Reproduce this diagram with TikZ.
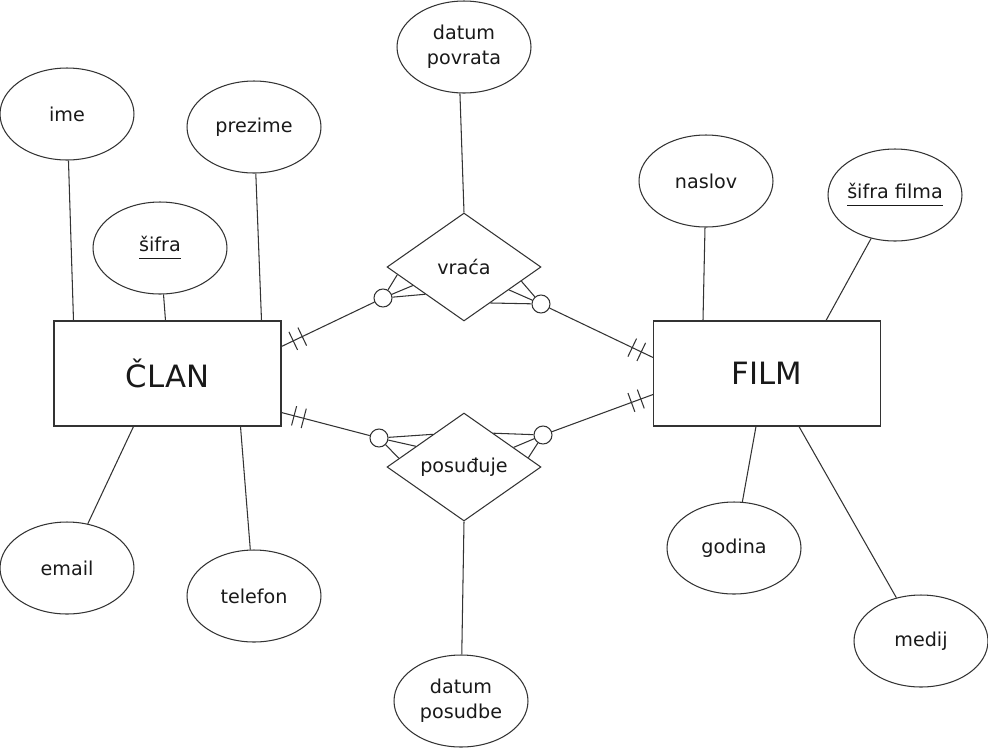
\documentclass[tikz,border=0pt]{standalone}
\usepackage{fontspec}
\setmainfont{DejaVu Sans}
\usetikzlibrary{shapes.geometric, calc, decorations.markings}

\newcommand{\kljuc}[1]{\underline{#1\vphantom{j}}}

\begin{document}
\begin{tikzpicture}[
  x=0.02cm, y=-0.02cm,
  line width=0.6pt, color=black!80, text=black!90,
  font=\fontsize{10.9}{14}\selectfont,
  entity/.style={draw, minimum width=4.54cm, minimum height=2.1cm, inner sep=0,
    font=\fontsize{17.5}{22}\selectfont},
  attr/.style={draw, ellipse, minimum width=2.68cm, minimum height=1.84cm,
    inner sep=0, inner xsep=-0.6cm, align=center},
  rel/.style={draw, diamond, minimum width=3.08cm, minimum height=2.16cm, inner sep=0},
  zero/.style={draw, circle, fill=white, minimum size=0.36cm, inner sep=0},
  onlyone/.style={postaction={decorate, decoration={markings,
      mark=at position 0.26cm with {\draw (0,-0.2cm) -- (0,0.2cm);},
      mark=at position 0.46cm with {\draw (0,-0.2cm) -- (0,0.2cm);}}}}
]
\useasboundingbox (0,0) rectangle (988,748);

% entities
\node[entity] (clan) at (167.5,373.5) {ČLAN};
\node[entity] (film) at (767,373.5) {FILM};

% relationships
\node[rel] (vraca) at (464,267) {vraća};
\node[rel] (posuduje) at (464,467) {posuđuje};

% attributes of ČLAN
\node[attr] (ime) at (67,114) {ime};
\node[attr] (prezime) at (254,127) {prezime};
\node[attr] (sifra) at (160,248) {\kljuc{šifra}};
\node[attr] (email) at (67,568) {email};
\node[attr] (telefon) at (254,596) {telefon};

\draw (ime) -- ($(clan.north west)+(20,0)$);
\draw (prezime) -- ($(clan.north east)+(-20,0)$);
\draw (sifra) -- ($(clan.north)+(-2,0)$);
\draw (email) -- ($(clan.south west)+(80,0)$);
\draw (telefon) -- ($(clan.south east)+(-41,0)$);

% attributes of FILM
\node[attr] (naslov) at (706,181) {naslov};
\node[attr] (sifrafilma) at (895,195) {\kljuc{šifra filma}};
\node[attr] (godina) at (734,548) {godina};
\node[attr] (medij) at (921,641) {medij};

\draw (naslov) -- ($(film.north west)+(50,0)$);
\draw (sifrafilma) -- ($(film.north east)+(-55,0)$);
\draw (godina) -- ($(film.south west)+(103,0)$);
\draw (medij) -- ($(film.south east)+(-82,0)$);

% attributes of the relationships
\node[attr] (povrat) at (464,47) {datum\\povrata};
\node[attr] (posudba) at (461,701) {datum\\posudbe};

\draw (povrat.265) -- (vraca.north);
\draw (posudba) -- (posuduje.south);

% zero-or-many ends
\node[zero] (z1) at (383,298) {};
\node[zero] (z2) at (541,304) {};
\node[zero] (z3) at (379,438) {};
\node[zero] (z4) at (543,435) {};

% vraća
\draw[onlyone] ($(clan.north east)+(0,26)$) -- (z1);
\draw[onlyone] ($(film.north west)+(0,37)$) -- (z2);
\foreach \t in {0.14,0.34,0.5}
  \draw (z1) -- ($(vraca.west)!\t!(vraca.south)$);
\foreach \t in {0.26,0.42,0.66}
  \draw (z2) -- ($(vraca.east)!\t!(vraca.south)$);

% posuđuje
\draw[onlyone] ($(clan.south east)+(0,-14)$) -- (z3);
\draw[onlyone] ($(film.south west)+(0,-32)$) -- (z4);
\foreach \t in {0.16,0.38,0.6}
  \draw (z3) -- ($(posuduje.west)!\t!(posuduje.north)$);
\foreach \t in {0.17,0.36,0.62}
  \draw (z4) -- ($(posuduje.east)!\t!(posuduje.north)$);

\end{tikzpicture}
\end{document}
